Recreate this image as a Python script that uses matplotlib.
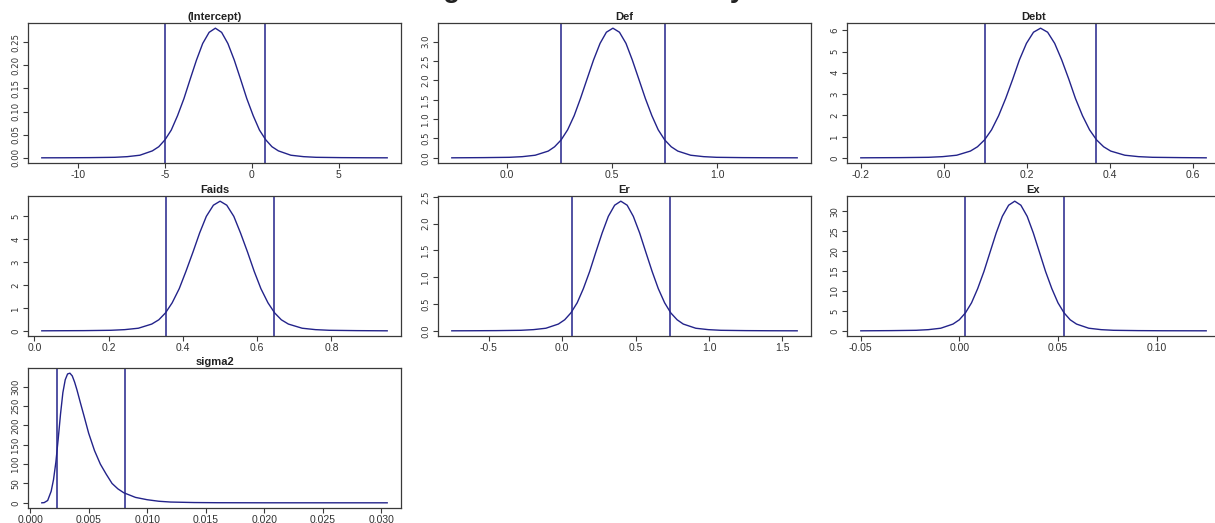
import matplotlib
matplotlib.use("Agg")
import matplotlib.pyplot as plt

plt.rcParams['font.family'] = ['Liberation Sans', 'DejaVu Sans']
plt.rcParams['axes.unicode_minus'] = False

# values
titles = ['(Intercept)', 'Def', 'Debt', 'Faids', 'Er', 'Ex', 'sigma2']

intercept_x = [-12.1, -10.8, -9.35, -7.9, -7.18, -6.45, -5.73, -5.36, -5.0, -4.64, -4.28, -3.91, -3.55, -3.19, -2.83, -2.46,
               -2.1, -1.74, -1.38, -1.01, -0.65, -0.29, 0.08, 0.44, 0.8, 1.16, 1.53, 2.25, 2.98, 3.7, 5.15, 6.6, 7.8]
intercept_y = [0, 0.0001, 0.0004, 0.0011, 0.0025, 0.0056, 0.015, 0.024, 0.039, 0.060, 0.091, 0.128, 0.170, 0.211, 0.247, 0.271,
               0.280, 0.271, 0.247, 0.211, 0.170, 0.128, 0.091, 0.060, 0.039, 0.024, 0.015, 0.0056, 0.0025, 0.0011, 0.0004, 0.0001, 0]

def_x = [-0.26, -0.11, 0.013, 0.075, 0.136, 0.198, 0.228, 0.259, 0.29, 0.321, 0.351, 0.382, 0.413, 0.444, 0.474,
         0.505, 0.536, 0.567, 0.597, 0.628, 0.659, 0.69, 0.72, 0.751, 0.782, 0.813, 0.874, 0.936, 0.997, 1.12, 1.243, 1.38]
def_y = [0, 0.005, 0.013, 0.030, 0.067, 0.174, 0.285, 0.462, 0.724, 1.089, 1.534, 2.033, 2.529, 2.958, 3.246,
         3.35, 3.246, 2.958, 2.529, 2.033, 1.534, 1.089, 0.724, 0.462, 0.285, 0.174, 0.067, 0.030, 0.013, 0.005, 0.0017, 0]

debt_x = [-0.2, -0.172, -0.105, -0.037, -0.003, 0.031, 0.064, 0.081, 0.098, 0.115, 0.132, 0.149, 0.166, 0.182, 0.199, 0.216,
          0.233, 0.25, 0.267, 0.284, 0.301, 0.317, 0.334, 0.351, 0.368, 0.385, 0.402, 0.436, 0.469, 0.503, 0.571, 0.632]
debt_y = [0, 0.003, 0.009, 0.024, 0.055, 0.122, 0.317, 0.519, 0.842, 1.318, 1.983, 2.794, 3.703, 4.606, 5.386, 5.911,
          6.1, 5.911, 5.386, 4.606, 3.703, 2.794, 1.983, 1.318, 0.842, 0.519, 0.317, 0.122, 0.055, 0.024, 0.009, 0]

faids_x = [0.02, 0.059, 0.133, 0.206, 0.243, 0.28, 0.316, 0.335, 0.353, 0.371, 0.39, 0.408, 0.427, 0.445, 0.463, 0.482,
           0.5, 0.518, 0.537, 0.555, 0.574, 0.592, 0.61, 0.629, 0.647, 0.665, 0.684, 0.721, 0.757, 0.794, 0.868, 0.95]
faids_y = [0, 0.003, 0.008, 0.023, 0.051, 0.113, 0.294, 0.48, 0.78, 1.22, 1.836, 2.588, 3.43, 4.266, 4.989, 5.475,
           5.65, 5.475, 4.989, 4.266, 3.43, 2.588, 1.836, 1.22, 0.78, 0.48, 0.294, 0.113, 0.051, 0.023, 0.008, 0]

er_x = [-0.75, -0.62, -0.45, -0.28, -0.195, -0.11, -0.025, 0.018, 0.06, 0.103, 0.145, 0.188, 0.23, 0.273, 0.315, 0.358,
        0.4, 0.443, 0.485, 0.528, 0.57, 0.613, 0.655, 0.698, 0.74, 0.783, 0.825, 0.91, 0.995, 1.08, 1.25, 1.42, 1.6]
er_y = [0, 0.0012, 0.0036, 0.0097, 0.022, 0.048, 0.126, 0.206, 0.334, 0.523, 0.787, 1.108, 1.469, 1.827, 2.137, 2.345,
        2.42, 2.345, 2.137, 1.827, 1.469, 1.108, 0.787, 0.523, 0.334, 0.206, 0.126, 0.048, 0.022, 0.0097, 0.0036, 0.0012, 0]

ex_x = [-0.05, -0.0345, -0.022, -0.0158, -0.0095, -0.0033, -0.0001, 0.003, 0.0061, 0.0092, 0.0124, 0.0155, 0.0186, 0.0217, 0.0249,
        0.028, 0.0311, 0.0343, 0.0374, 0.0405, 0.0436, 0.0468, 0.0499, 0.053, 0.0561, 0.0593, 0.0655, 0.0718, 0.078, 0.0905, 0.103, 0.125]
ex_y = [0, 0.049, 0.13, 0.29, 0.65, 1.69, 2.76, 4.49, 7.02, 10.56, 14.89, 19.73, 24.54, 28.7, 31.49,
        32.5, 31.49, 28.7, 24.54, 19.73, 14.89, 10.56, 7.02, 4.49, 2.76, 1.69, 0.65, 0.29, 0.13, 0.049, 0.016, 0]

sigma2_x = [0.001, 0.0012, 0.0015, 0.0018, 0.002, 0.0022, 0.0024, 0.0026, 0.0028, 0.003, 0.0032, 0.0034, 0.0036, 0.0038, 0.004,
            0.0043, 0.0046, 0.005, 0.0055, 0.006, 0.0065, 0.007, 0.0075, 0.008, 0.009, 0.010, 0.011, 0.012, 0.014, 0.016, 0.02, 0.0305]
sigma2_y = [0, 0.5, 6, 30, 60, 105, 165, 230, 285, 318, 333, 335, 328, 312, 292,
            258, 225, 180, 135, 100, 74, 50, 36, 26, 14, 8, 4, 2, 0.7, 0.25, 0.05, 0]

# 95% interval lines
lower = [-5.0, 0.26, 0.10, 0.355, 0.065, 0.003, 0.0023]
upper = [0.75, 0.75, 0.366, 0.645, 0.735, 0.053, 0.0081]

xticks = [[-10, -5, 0, 5], [0.0, 0.5, 1.0], [-0.2, 0.0, 0.2, 0.4, 0.6], [0.0, 0.2, 0.4, 0.6, 0.8],
          [-0.5, 0.0, 0.5, 1.0, 1.5], [-0.05, 0.0, 0.05, 0.10], [0, 0.005, 0.010, 0.015, 0.020, 0.025, 0.030]]
xlabels = [['-10', '-5', '0', '5'], ['0.0', '0.5', '1.0'], ['-0.2', '0.0', '0.2', '0.4', '0.6'],
           ['0.0', '0.2', '0.4', '0.6', '0.8'], ['-0.5', '0.0', '0.5', '1.0', '1.5'],
           ['-0.05', '0.00', '0.05', '0.10'], ['0.000', '0.005', '0.010', '0.015', '0.020', '0.025', '0.030']]
yticks = [[0, 0.05, 0.10, 0.15, 0.20, 0.25], [0, 0.5, 1.0, 1.5, 2.0, 2.5, 3.0], [0, 1, 2, 3, 4, 5, 6],
          [0, 1, 2, 3, 4, 5], [0, 0.5, 1.0, 1.5, 2.0, 2.5], [0, 5, 10, 15, 20, 25, 30], [0, 50, 100, 150, 200, 250, 300]]
ylabels = [['0.00', '0.05', '0.10', '0.15', '0.20', '0.25'], ['0.0', '0.5', '1.0', '1.5', '2.0', '2.5', '3.0'],
           ['0', '1', '2', '3', '4', '5', '6'], ['0', '1', '2', '3', '4', '5'],
           ['0.0', '0.5', '1.0', '1.5', '2.0', '2.5'], ['0', '5', '10', '15', '20', '25', '30'],
           ['0', '50', '100', '150', '200', '250', '300']]

curves = [(intercept_x, intercept_y), (def_x, def_y), (debt_x, debt_y), (faids_x, faids_y),
          (er_x, er_y), (ex_x, ex_y), (sigma2_x, sigma2_y)]

W, H = 1215, 523
fig = plt.figure(figsize=(W / 100, H / 100), dpi=100)

col_left = [28, 438, 847]
row_top = [23, 196, 368]
aw, ah = 373, 140

line_col = '#23238a'
box_col = '#3a3a3a'

# main title sits almost entirely above the top edge, only descenders show
fig.text(0.5, 1 + 3 / H, 'Marginal Posterior Density Plots', ha='center', va='baseline',
         fontsize=20, fontweight='bold', color='#222222')

for i in range(7):
    r, c = divmod(i, 3)
    ax = fig.add_axes([col_left[c] / W, 1 - (row_top[r] + ah) / H, aw / W, ah / H])
    xs, ys = curves[i]
    ax.plot(xs, ys, color=line_col, lw=1.0)
    ax.margins(x=0.04, y=0.04)
    ax.axvline(lower[i], color=line_col, lw=1.1)
    ax.axvline(upper[i], color=line_col, lw=1.1)
    ax.set_xticks(xticks[i])
    ax.set_xticklabels(xlabels[i], fontsize=7.5, color='#333333')
    ax.set_yticks(yticks[i])
    ax.set_yticklabels(ylabels[i], fontsize=6.8, color='#333333', rotation=90, va='center',
                       family='DejaVu Sans', fontstretch='condensed')
    ax.tick_params(direction='out', length=3.5, width=0.8, color=box_col, pad=2)
    ax.tick_params(axis='x', pad=1.5)
    for s in ax.spines.values():
        s.set_color(box_col)
        s.set_linewidth(0.9)
    ax.set_title(titles[i], fontsize=8, fontweight='bold', pad=2, color='#222222')

fig.savefig('out.png', dpi=100)
